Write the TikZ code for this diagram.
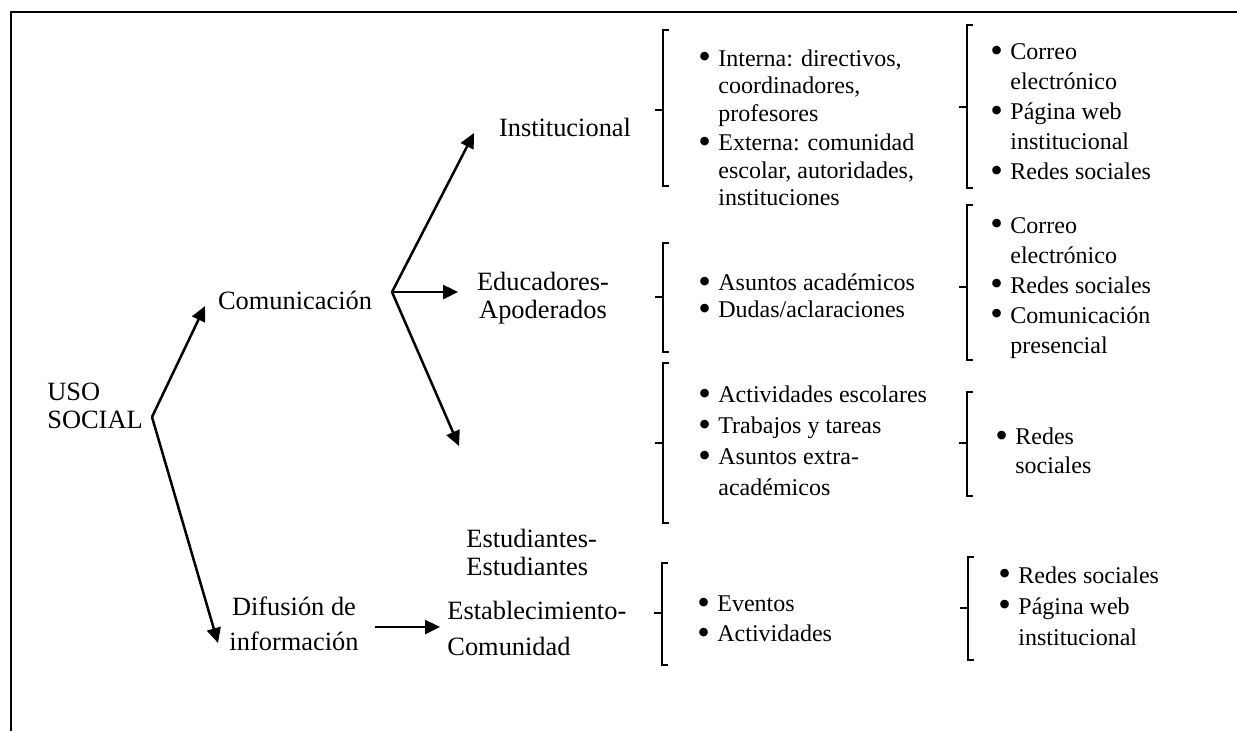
\documentclass[tikz,border=0pt]{standalone}
\usepackage{fontspec}
\setmainfont{Liberation Serif}
\usetikzlibrary{arrows.meta}

\tikzset{
  lbl/.style={font=\fontsize{13.2}{14}\selectfont, align=center, inner sep=0pt},
  lista/.style={font=\fontsize{12}{15}\selectfont, align=left, inner sep=0pt, anchor=west},
  flecha/.style={line width=1.25pt, -{Triangle[length=7.5pt,width=7pt]}},
  marco/.style={line width=1.1pt},
  corch/.style={line width=0.6pt}
}
\newcommand{\bul}{\makebox[7.5pt][l]{\hspace*{-2.5pt}\raisebox{-1.2pt}{\scalebox{1.5}{\textbullet}}}}
\newcommand{\sang}{\hspace*{7.5pt}}
% corchete: x, arriba, marca, abajo
\newcommand{\corchete}[4]{%
  \draw[corch] (#1+6,#2) -- (#1,#2) -- (#1,#4) -- (#1+6,#4);
  \draw[corch] (#1-8,#3) -- (#1,#3);}

\begin{document}
\begin{tikzpicture}[x=0.5pt, y=-0.5pt]
    \useasboundingbox (0,0) rectangle (1237,730);
    \draw[marco] (11,731) -- (11,12) -- (1238,12);

    % niveles
    \node[lbl, align=left, anchor=west] (uso) at (47,406) {USO\\SOCIAL};
    \node[lbl] (com) at (295,300) {Comunicación};
    \node[lbl, font=\fontsize{13.2}{17.5}\selectfont] (dif) at (294,624) {Difusión de\\información};
    \node[lbl] (inst) at (565,127) {Institucional};
    \node[lbl] (edu) at (543,298) {Educadores-\\Apoderados};
    \node[lbl, align=left, anchor=west] (est) at (466,552) {Estudiantes-\\Estudiantes};
    \node[lbl, align=left, anchor=west, font=\fontsize{13.2}{18}\selectfont] (estab) at (447,628) {Establecimiento-\\Comunidad};

    \coordinate (usofork) at (152,417);
    \coordinate (comfork) at (392,292);
    \coordinate (comtip) at (205,306);
    \coordinate (diftip) at (218,643);
    \coordinate (insttip) at (474,133);
    \coordinate (edutip) at (458,292);
    \coordinate (esttip) at (459,446);

    \draw[flecha] (usofork) -- (comtip);
    \draw[flecha] (usofork) -- (diftip);
    \draw[flecha] (comfork) -- (insttip);
    \draw[flecha] (comfork) -- (edutip);
    \draw[flecha] (comfork) -- (esttip);
    \draw[flecha, shorten <=8pt, shorten >=3.5pt] (dif.east |- 0,627) -- (estab.west |- 0,627);

    % contenidos
    \corchete{663}{30}{110}{186}
    \node[lista, font=\fontsize{12}{13.75}\selectfont] (inst-cont) at (703,128)
      {\bul Interna: directivos,\\ \sang coordinadores,\\ \sang profesores\\[1pt]
       \bul Externa: comunidad\\ \sang escolar, autoridades,\\ \sang instituciones};
    \corchete{663}{243}{297}{352}
    \node[lista, font=\fontsize{12}{13.5}\selectfont] (edu-cont) at (703,297)
      {\bul Asuntos académicos\\ \bul Dudas/aclaraciones};
    \corchete{663}{363}{443}{523}
    \node[lista, font=\fontsize{12}{15.5}\selectfont] (est-cont) at (703,441)
      {\bul Actividades escolares\\ \bul Trabajos y tareas\\ \bul Asuntos extra-\\ \sang académicos};
    \corchete{662}{563}{613}{665}
    \node[lista] (estab-cont) at (702,620)
      {\bul Eventos\\ \bul Actividades};

    % medios
    \corchete{967}{25}{107}{188}
    \node[lista] (inst-medio) at (995,113)
      {\bul Correo\\ \sang electrónico\\ \bul Página web\\ \sang institucional\\ \bul Redes sociales};
    \corchete{967}{205}{287}{360}
    \node[lista] (edu-medio) at (995,288)
      {\bul Correo\\ \sang electrónico\\ \bul Redes sociales\\ \bul Comunicación\\ \sang presencial};
    \corchete{967}{392}{443}{496}
    \node[lista, font=\fontsize{12}{14.5}\selectfont] (est-medio) at (1000,451)
      {\bul Redes\\ \sang sociales};
    \corchete{968}{557}{608}{660}
    \node[lista, font=\fontsize{12}{15.5}\selectfont] (estab-medio) at (1003,606)
      {\bul Redes sociales\\ \bul Página web\\ \sang institucional};
\end{tikzpicture}
\end{document}
